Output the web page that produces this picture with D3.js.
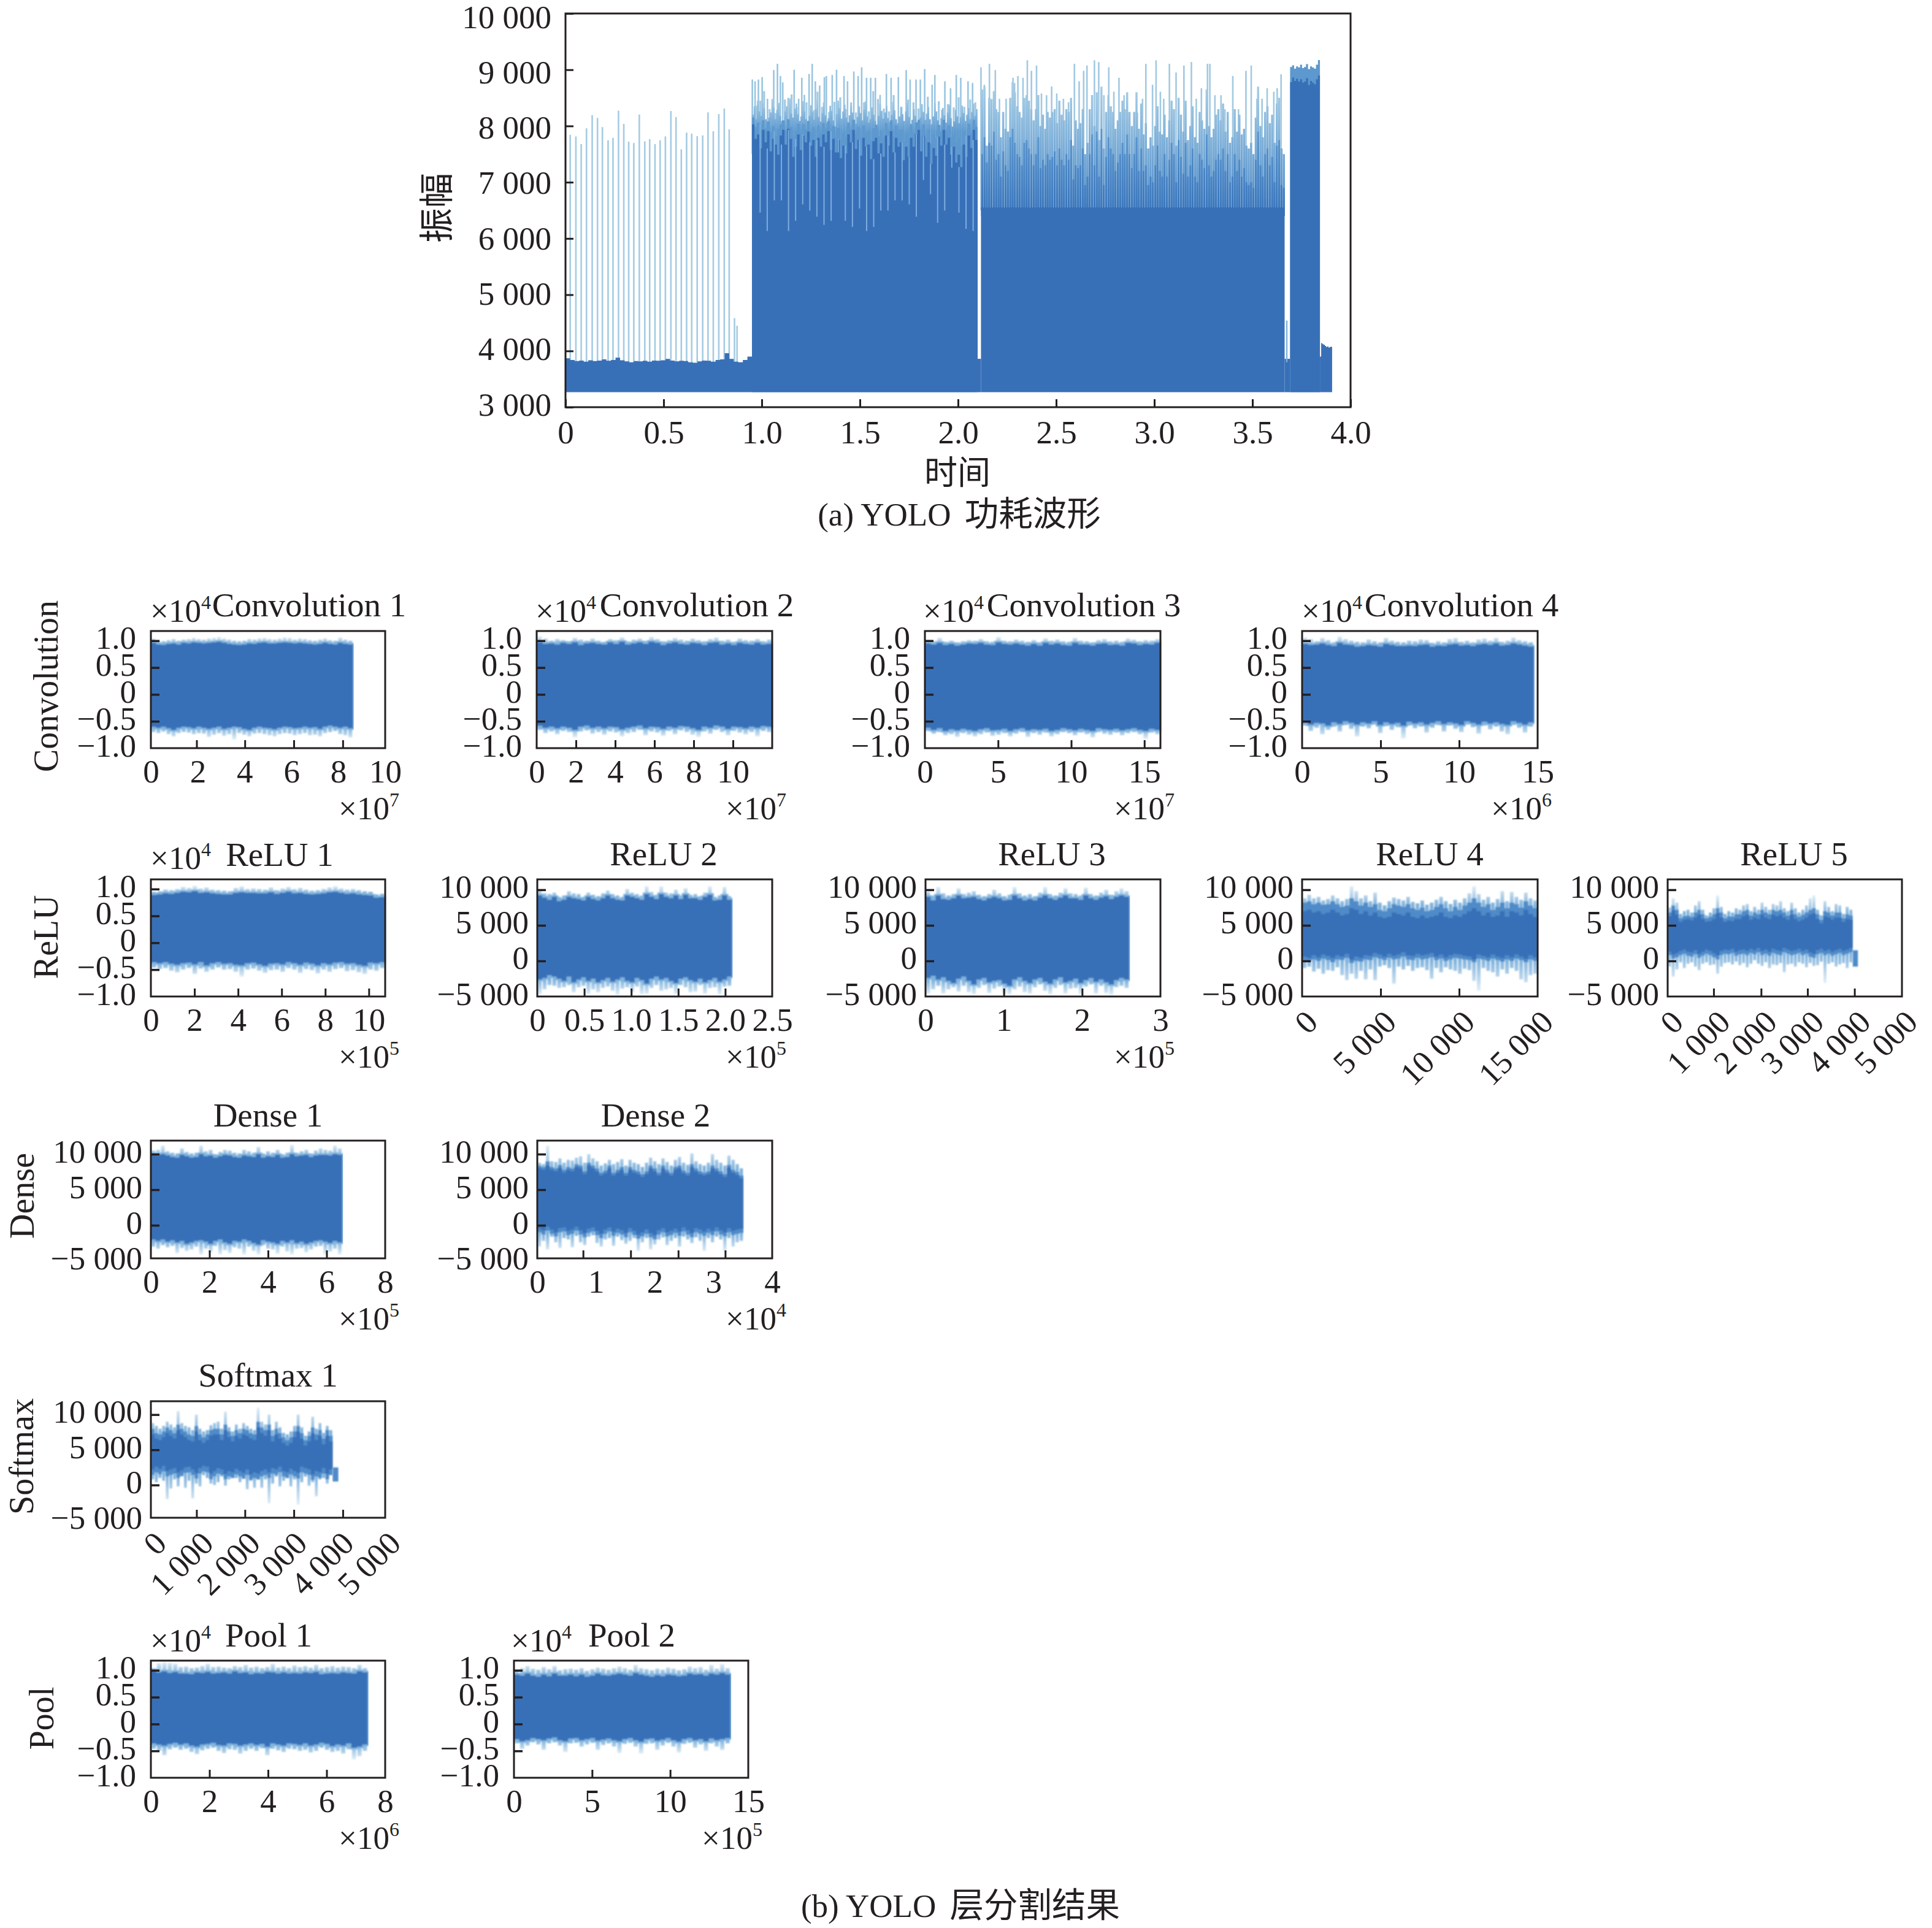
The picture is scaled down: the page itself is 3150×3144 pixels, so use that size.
<!DOCTYPE html>
<html><head><meta charset="utf-8">
<script src="https://cdn.jsdelivr.net/npm/d3@7/dist/d3.min.js"></script>
<style>
html,body{margin:0;background:#fff}
text{font-family:"Liberation Serif","Noto Sans CJK SC",serif;fill:#231f20}
</style></head><body>
<script>
// ---------- main waveform (a): time in the axis unit, amplitude in counts ----------
const mainYTicks=[3000,4000,5000,6000,7000,8000,9000,10000];
const mainXTicks=[0,0.5,1,1.5,2,2.5,3,3.5,4];
const aSpikeX=[0.024,0.053,0.080,0.107,0.136,0.163,0.188,0.217,0.242,0.270,0.297,0.322,0.348,0.376,0.404,0.429,0.456,0.482,0.509,0.537,0.563,0.590,0.617,0.643,0.671,0.699,0.726,0.753,0.781,0.809,0.834,0.861,0.874];
const aSpikeY=[7845,7814,7677,7957,8193,8143,7981,7745,7789,8273,8037,7720,7696,8205,7727,7764,7677,7745,7814,8267,8161,7584,7882,7863,7820,7832,8242,7907,8211,8311,7938,4584,4447];
const aTop=[3870,3840,3820,3830,3810,3835,3820,3830,3850,3825,3840,3880,3835,3815,3800,3820,3815,3825,3810,3830,3825,3835,3860,3830,3815,3825,3820,3800,3790,3815,3830,3825,3810,3840,3850,3960,3860,3810,3800,3840,3900];
const bSpikeX=[0.952,0.966,0.983,1.002,1.029,1.061,1.080,1.095,1.107,1.165,1.188,1.204,1.217,1.241,1.257,1.273,1.295,1.319,1.329,1.359,1.381,1.419,1.437,1.469,1.491,1.509,1.534,1.555,1.579,1.603,1.635,1.659,1.696,1.736,1.756,1.786,1.808,1.830,1.868,1.882,1.933,1.962,1.991,2.014,2.051,2.074];
const bSpikeY=[8826,8795,8826,8870,8484,8994,9106,8888,8776,9000,8484,8857,8553,8925,9106,8795,8720,8870,8888,8907,9000,8888,8795,8969,8888,9044,8857,8857,8857,8553,8925,8857,8870,8994,8826,8826,8826,9012,8733,8907,8795,8671,8907,8857,8795,8764];
const bShortX=[0.972,0.993,1.012,1.040,1.071,1.118,1.135,1.152,1.178,1.228,1.266,1.284,1.307,1.343,1.370,1.400,1.428,1.455,1.480,1.521,1.545,1.568,1.592,1.622,1.648,1.672,1.712,1.746,1.773,1.798,1.846,1.902,1.918,1.948,1.978,2.003,2.032,2.062,2.088];
const bShortY=[8360,8450,8620,8300,8230,8470,8500,8560,8340,8420,8280,8610,8340,8250,8430,8510,8300,8360,8240,8420,8260,8620,8480,8310,8260,8550,8340,8470,8420,8310,8520,8440,8290,8390,8330,8510,8340,8470,8420];
const bMidSpike=[8200,8350,8120,8450,8260,8180,8400,8310,8120,8080,8150,8240,8480,8330,8120,8290,8410,8180,8090,7980,8260,8350,8120,8490,8220,8150,8310,8400,8210,8090,8170,8440,8260,8120,8050,8180,8370,8250,8110,8300,8480,8160,8080,8230,8420,8190,8060,8140,8360,8270,8100,7990,8210,8450,8320,8130,8260,8380,8150,8070,8190,8420,8240,8110,8040,8160,8350,8230,8100,8290,8440,8170,8060,8120,8330,8200,8090,8020,8180,8400,8270,8130,8240,8360,8140,8070,8200,8430,8280,8120,8050,8170,8340,8210,8090,8260,8410,8160,8040,8110,8300,8180,8070,7980,8150,8390,8250,8110,8220,8340,8120,8030,8170,8410,8260,8100,8010,8140,8320,8190,8060,8240,8380,8140,7990,8080,8290,8170,8050,8160,8360,8230,8090,8200,8320,8120,8250,8400,8180,8300];
const bFringe=[8150,7980,8060,7900,8100,7950,8080,7880,8000,7820,7950,8030,8100,7920,8120,7980,7800,7900,8040,7860,8030,7940,8090,7880,7980,7760,8010,7860,8050,7950,8090,7880,8000,7800,7960,7760,7880,7800,8050,7940,8110,7850,7980,7780,8010,7880,7900,7740,7960,8020,7820,7920,7780,8050,7900,8100,7820,8010,7880,7940,7720,7880,7780,8020,7880,8060,8110,7820,8030,7780,7940,7680,7860,7780,8020,7900,8110,7920,8010,7800,7860,7700,7780,7640,7900,7760,8040,7860,8110,7980];
const bDark=[8030,7770,7850,7600,7930,7710,7910,7550,7770,7670,7490,7830,7930,7670,7950,7770,7450,7630,7850,7570,7830,7710,7900,7650,7750,7450,7790,7630,7850,7710,7910,7570,7770,7530,7750,7430,7650,7510,7850,7710,7930,7590,7750,7470,7790,7630,7670,7410,7730,7790,7510,7690,7450,7830,7650,7910,7530,7790,7630,7710,7390,7630,7450,7790,7630,7850,7930,7550,7830,7450,7710,7330,7610,7470,7810,7650,7930,7670,7790,7490,7630,7350,7490,7270,7670,7450,7830,7610,7930,7750];
const bCutLow=[6460,6133,6678,6678,6133,6314,6605,6496,6387,6242,6314,7768,6314,6205,6532,6133,6205,6496,6496,6678,6678,6605,6387,7040,6787,6278,6496,7258,6460,6170,6133];
const cSpikeX=[2.117,2.134,2.160,2.190,2.211,2.245,2.280,2.288,2.305,2.331,2.353,2.374,2.400,2.425,2.451,2.477,2.503,2.537,2.563,2.593,2.617,2.640,2.657,2.695,2.717,2.743,2.768,2.794,2.820,2.846,2.871,2.914,2.940,2.957,2.991,3.009,3.031,3.048,3.077,3.111,3.151,3.189,3.214,3.240,3.271,3.283,3.309,3.340,3.360,3.400,3.429,3.467,3.494,3.523,3.549,3.575,3.609,3.626,3.646];
const cSpikeY=[9043,8733,9106,8994,8484,8484,8857,8764,8888,8857,9168,8981,9075,8578,8547,8702,8578,8484,8422,9106,8795,8981,9075,9168,9137,8547,9043,8609,8857,8547,8236,8236,8484,9106,8733,9168,8609,8484,9106,8950,9075,9137,8484,8671,9106,9106,8547,8547,8298,8888,8298,8981,9075,8484,8484,8671,8609,8671,8919];
const cMid=[8650,8700,7650,8500,8480,8620,8300,8250,7800,8250,7950,7900,8500,8780,8600,8350,8250,8150,8500,8550,8450,8300,8100,8300,8550,8000,8200,7950,8250,8150,8250,8300,8050,8450,8200,8100,8300,8250,8500,7650,8100,7950,8050,8300,7500,7700,8300,8550,8000,8600,7750,8700,7600,8250,8550,8350,8250,7950,8100,8250,8450,8300,8600,8250,8000,8250,8600,7950,8400,7850,8050,7600,7800,7650,8000,8350,7900,7850,8200,7800,8100,8450,8300,7650,8500,8200,7900,8450,7750,8000,8350,7800,7700,8250,8100,7950,8650,8000,7800,7950,8200,8300,8100,8400,7900,8250,7700,7800,8300,7900,8200,7850,7950,7650,7600,7700,7500,8150,8700,8000,7800,8250,8350,8050,8200,7700,8400,8500,7600,7500];
const cDeep=[7500,7800,7350,7700,7650,7900,7400,7500,7100,7550,7300,7200,7800,7950,7700,7500,7450,7300,7700,7750,7600,7500,7300,7500,7800,7250,7400,7300,7500,7400,7450,7550,7300,7600,7400,7300,7500,7400,7750,7050,7300,7250,7300,7600,6950,7100,7500,7850,7300,7900,7100,7950,6950,7450,7800,7600,7500,7200,7350,7500,7700,7500,7850,7500,7250,7500,7800,7200,7600,7200,7300,6950,7100,7000,7300,7650,7200,7100,7500,7100,7400,7700,7500,7000,7750,7450,7150,7700,7100,7300,7600,7100,7000,7500,7400,7250,7850,7300,7100,7200,7400,7500,7400,7600,7200,7500,7000,7100,7500,7200,7400,7100,7250,7000,6950,7000,6900,7400,7900,7300,7100,7500,7600,7300,7450,7000,7650,7750,6950,6900];
const cBase=6550;
const dTop=[9050,9080,9020,9060,9040,9090,9030,9050,9100,9010,9060,9040,9020,9090,9170];
const dDark=[8780,8860,8800,8840,8790,8830,8770,8790,8850,8730,8800,8770,8740,8830,8900];
const eTop=[3900,4140,4120,4110,4090,4070,4080,4060,4070,4075];
const baseFloor=3267;
const gapX=[[2.100,2.117],[3.664,3.692]], gapTop=3860, gapSpikeX=3.675, gapSpikeY=4540;

// ---------- layer panels (b): envelopes in hundreds of counts, one sample per column ----------
const conv1OuterTop=[104,100,99,101,103,100,102,103,105,103,102,104,105,107,104,102,100,99,100,103,102,104,105,103,102,104,106,105,102,104,103,101,100,102,104,101,100,106,102,100];
const conv1MidTop=[96,93,92,94,95,93,96,95,97,96,95,96,97,98,96,94,93,92,93,95,94,96,97,95,95,96,97,96,95,96,95,94,93,94,96,94,93,96,94,93];
const conv1MidBot=[-60,-62,-60,-63,-66,-62,-60,-61,-63,-60,-62,-64,-62,-60,-64,-62,-60,-61,-64,-66,-62,-60,-62,-63,-65,-62,-60,-61,-63,-62,-60,-62,-61,-64,-60,-58,-60,-62,-60,-63];
const conv1OuterBot=[-70,-72,-69,-74,-78,-72,-70,-71,-74,-72,-73,-79,-75,-72,-77,-74,-84,-72,-75,-78,-73,-72,-74,-76,-78,-74,-72,-73,-76,-74,-72,-76,-75,-78,-72,-70,-68,-74,-76,-80];
const conv2OuterTop=[108,104,100,103,101,99,105,102,100,104,100,98,103,101,106,99,102,104,100,107,103,99,101,105,102,100,104,101,99,103,106,100,102,98,104,101,100,103,99,102];
const conv2MidTop=[97,94,95,93,96,94,97,92,95,96,94,93,97,94,98,93,95,97,94,98,96,92,95,97,94,93,96,95,92,96,97,93,95,92,96,94,93,96,93,94];
const conv2MidBot=[-58,-62,-60,-63,-60,-62,-66,-60,-58,-62,-60,-63,-60,-61,-65,-62,-60,-58,-63,-60,-61,-64,-60,-62,-59,-60,-63,-66,-60,-62,-58,-60,-64,-60,-61,-63,-60,-62,-59,-60];
const conv2OuterBot=[-66,-72,-69,-74,-68,-70,-80,-69,-67,-73,-70,-75,-69,-71,-78,-72,-70,-66,-76,-69,-71,-77,-68,-74,-67,-70,-75,-79,-69,-73,-66,-70,-76,-68,-71,-74,-70,-78,-68,-70];
const conv3OuterTop=[101,99,105,98,100,97,99,101,100,103,99,98,107,100,99,102,100,98,101,97,104,100,102,99,98,105,100,99,97,101,103,99,100,98,104,102,99,101,100,103];
const conv3MidTop=[95,93,96,92,94,91,93,95,94,96,93,92,97,94,93,95,93,91,94,91,96,93,95,92,91,96,93,93,91,94,95,92,93,91,96,95,92,94,93,96];
const conv3MidBot=[-62,-66,-63,-68,-65,-67,-64,-66,-68,-65,-63,-67,-66,-64,-68,-65,-63,-67,-65,-66,-64,-68,-66,-63,-65,-67,-64,-66,-68,-63,-65,-66,-64,-67,-65,-63,-66,-68,-64,-66];
const conv3OuterBot=[-68,-73,-70,-76,-74,-79,-72,-75,-78,-74,-71,-77,-75,-72,-78,-73,-70,-79,-72,-75,-71,-78,-74,-70,-72,-76,-71,-74,-80,-70,-73,-75,-71,-76,-72,-70,-74,-83,-71,-74];
const conv4OuterTop=[106,103,99,105,101,97,108,103,100,98,97,102,99,97,105,100,98,97,100,99,102,101,96,99,97,103,105,98,100,97,102,104,100,105,98,100,106,101,99,97];
const conv4MidTop=[94,92,93,95,92,90,96,93,92,89,90,92,91,89,94,92,90,90,91,90,92,93,89,91,90,93,94,91,92,90,93,94,92,95,91,92,95,93,91,89];
const conv4MidBot=[-52,-56,-53,-54,-58,-52,-55,-50,-53,-56,-52,-54,-50,-57,-52,-55,-53,-58,-51,-54,-52,-56,-53,-50,-55,-52,-54,-57,-50,-53,-56,-51,-54,-52,-55,-57,-50,-53,-56,-52];
const conv4OuterBot=[-58,-68,-62,-74,-66,-60,-69,-57,-64,-78,-60,-63,-56,-72,-59,-66,-61,-82,-58,-63,-60,-71,-62,-57,-69,-58,-64,-70,-56,-61,-73,-58,-65,-60,-69,-74,-57,-62,-71,-60];
const relu1OuterTop=[95,96,99,98,100,104,102,106,101,103,99,98,97,96,102,105,100,101,100,99,103,98,101,104,100,102,99,97,98,100,103,105,101,99,100,98,96,95,90,91];
const relu1MidTop=[89,90,92,91,93,95,94,96,93,94,92,91,90,90,93,94,93,93,92,92,94,91,93,95,92,93,91,90,91,92,94,95,93,91,92,90,89,88,84,85];
const relu1MidBot=[-36,-38,-36,-39,-41,-38,-37,-40,-36,-42,-38,-36,-39,-38,-41,-42,-38,-37,-40,-43,-39,-38,-40,-36,-38,-41,-37,-39,-42,-38,-40,-37,-36,-39,-38,-41,-43,-37,-38,-36];
const relu1OuterBot=[-46,-49,-47,-52,-55,-50,-47,-58,-48,-54,-50,-46,-50,-49,-54,-63,-50,-48,-52,-56,-51,-50,-54,-47,-50,-56,-49,-51,-57,-50,-54,-49,-47,-53,-51,-55,-58,-50,-52,-47];
const relu2OuterTop=[100,95,94,96,90,92,98,95,94,90,96,93,91,95,99,94,92,90,101,96,94,92,105,97,93,105,96,95,100,92,102,93,94,91,96,105,90,92,104,91];
const relu2MidTop=[92,89,86,90,84,86,90,88,87,85,90,87,85,88,92,88,86,85,92,90,88,86,94,90,87,94,90,88,92,87,93,88,88,86,90,93,85,86,92,86];
const relu2MidBot=[-26,-24,-20,-22,-25,-28,-22,-30,-26,-23,-28,-25,-30,-27,-24,-29,-26,-23,-28,-30,-24,-27,-32,-25,-22,-26,-24,-28,-31,-25,-23,-27,-29,-25,-30,-27,-24,-29,-26,-22];
const relu2OuterBot=[-47,-40,-34,-35,-38,-37,-34,-44,-37,-35,-46,-40,-44,-38,-36,-42,-48,-39,-37,-44,-36,-47,-46,-38,-34,-42,-40,-38,-46,-34,-37,-44,-43,-34,-46,-38,-37,-47,-36,-35];
const relu3OuterTop=[97,92,104,95,92,94,102,94,96,98,93,91,94,100,95,91,93,104,95,92,94,91,96,104,94,92,96,102,95,94,92,103,94,92,96,100,93,98,102,98];
const relu3MidTop=[90,85,92,87,86,88,92,88,89,90,87,85,88,90,88,85,86,92,88,85,87,85,89,92,88,86,89,92,88,88,86,92,88,86,89,91,87,90,92,90];
const relu3MidBot=[-24,-21,-26,-23,-28,-31,-25,-22,-28,-33,-26,-24,-30,-28,-27,-32,-35,-26,-23,-28,-31,-26,-24,-29,-32,-26,-23,-30,-28,-25,-31,-27,-24,-29,-26,-30,-33,-27,-24,-26];
const relu3OuterBot=[-46,-40,-35,-46,-40,-37,-43,-35,-44,-47,-38,-34,-45,-39,-36,-46,-47,-40,-36,-44,-46,-37,-33,-42,-47,-38,-34,-46,-39,-38,-47,-36,-33,-46,-35,-45,-48,-37,-35,-38];
const relu4OuterTop=[88,93,88,90,85,87,92,88,84,87,105,98,88,92,84,96,82,78,84,89,87,85,90,83,81,85,79,82,86,90,84,80,86,82,88,95,105,94,86,90,82,87,98,84,97,90,86,96,88,85];
const relu4MidTop=[82,84,80,82,79,80,84,80,76,78,88,84,78,82,76,80,72,70,74,80,78,76,80,74,72,75,70,72,76,80,74,70,76,72,78,82,88,82,76,80,72,76,82,74,82,80,75,84,78,74];
const relu4CoreTop=[70,72,68,70,66,68,72,68,64,66,74,72,66,70,64,68,62,60,62,68,66,64,68,62,60,64,60,62,64,68,62,60,64,62,66,70,74,70,64,68,62,64,70,62,70,68,64,72,66,62];
const relu4CoreBot=[6,4,8,5,9,7,4,8,6,10,2,6,4,8,7,11,9,6,10,7,9,12,8,7,10,8,9,11,6,9,5,8,10,9,7,6,2,9,7,5,9,6,4,8,5,9,6,3,8,5];
const relu4MidBot=[0,-1,2,0,3,1,-2,2,1,4,-3,0,-1,2,1,5,3,1,4,2,3,6,2,1,4,2,3,5,1,3,0,2,4,3,2,1,-2,3,2,0,3,1,-1,2,0,3,1,-2,2,0];
const relu4OuterBot=[-10,-8,-15,-11,-18,-13,-14,-9,-20,-27,-18,-25,-14,-26,-12,-27,-8,-6,-10,-32,-8,-12,-7,-14,-10,-9,-13,-25,-10,-16,-9,-12,-14,-18,-11,-13,-28,-42,-10,-14,-16,-22,-12,-18,-10,-14,-26,-30,-20,-18];
const relu5OuterTop=[75,88,82,66,70,72,68,78,84,72,64,68,74,92,76,66,70,68,74,72,78,80,70,76,72,82,76,72,80,78,84,74,70,82,74,68,72,78,88,92,72,64,84,76,70,80,78,66,76,72];
const relu5MidTop=[68,78,72,60,63,64,62,68,72,66,60,62,66,74,68,60,63,62,66,66,70,72,64,68,66,72,68,66,72,70,72,68,64,72,66,62,65,68,72,74,66,58,70,68,64,68,68,60,66,64];
const relu5CoreTop=[63,71,65,55,58,59,57,61,65,59,55,56,59,67,61,55,57,56,59,59,63,65,58,61,59,65,61,59,65,63,65,61,58,65,59,56,58,61,65,67,59,53,63,61,58,61,61,55,59,58];
const relu5CoreBot=[13,9,11,14,16,13,12,15,10,13,16,14,11,8,14,16,15,17,13,15,16,14,17,15,18,14,16,13,17,15,14,18,16,14,15,17,14,16,12,10,15,17,14,16,13,15,17,14,16,18];
const relu5MidBot=[8,3,5,8,10,7,6,9,4,7,10,8,5,2,8,10,9,11,7,9,10,8,11,9,12,8,10,7,11,9,8,12,10,8,9,11,8,10,6,4,9,11,8,10,7,9,11,8,10,12];
const relu5OuterBot=[-8,-22,-12,-2,-10,-4,-2,-8,-13,-4,-2,-6,-5,-18,-8,-3,-2,-5,-1,-6,-3,-9,-4,1,-4,-7,-2,-10,-5,-6,-3,-16,-5,-4,-8,-2,-4,-9,-3,-7,-6,-1,-31,-4,-2,-8,-5,-3,-10,-2];
const dense1OuterTop=[105,106,112,104,102,101,108,103,101,102,112,104,106,100,103,106,105,102,101,106,104,102,110,101,104,102,106,100,102,113,102,104,106,101,105,108,106,105,112,108];
const dense1MidTop=[100,99,100,98,96,95,99,97,95,96,100,97,98,95,97,99,98,96,95,98,97,96,100,95,97,96,99,95,96,100,97,98,99,96,98,99,99,98,100,99];
const dense1MidBot=[-20,-22,-20,-23,-21,-24,-22,-26,-24,-22,-21,-23,-26,-22,-20,-24,-26,-22,-23,-20,-22,-25,-27,-21,-23,-24,-26,-22,-24,-21,-25,-23,-26,-24,-22,-21,-23,-25,-22,-24];
const dense1OuterBot=[-30,-33,-28,-31,-29,-39,-32,-36,-34,-30,-41,-33,-38,-29,-41,-35,-39,-31,-33,-41,-30,-36,-41,-28,-33,-34,-40,-30,-37,-41,-33,-32,-38,-34,-30,-29,-41,-37,-33,-41];
const dense2OuterTop=[88,86,112,90,89,94,88,92,91,95,97,88,100,94,90,84,87,92,86,89,93,84,92,88,86,82,88,95,90,86,94,89,84,92,96,88,85,101,90,86,84,88,100,92,88,84,98,92,86,80];
const dense2MidTop=[84,82,90,82,80,85,78,82,80,86,84,76,88,84,80,74,77,84,74,78,82,74,82,78,76,72,76,84,80,74,84,78,74,82,84,77,74,86,80,76,74,76,84,80,76,72,85,78,75,70];
const dense2CoreTop=[80,78,84,78,76,81,74,78,76,82,80,72,84,80,76,70,73,80,70,74,78,70,78,74,72,68,72,80,76,70,80,74,70,78,80,73,70,82,76,72,70,72,80,76,72,68,81,74,71,66];
const dense2CoreBot=[-4,-7,-2,-6,-10,-4,-3,-8,-6,-2,-7,-11,-5,-3,-8,-12,-6,-3,-9,-5,-7,-11,-4,-8,-13,-10,-6,-11,-14,-7,-4,-10,-8,-5,-9,-3,-7,-11,-4,-6,-9,-5,-8,-3,-7,-10,-4,-8,-6,-5];
const dense2MidBot=[-10,-13,-8,-12,-16,-10,-9,-14,-12,-8,-13,-17,-11,-9,-14,-18,-12,-9,-15,-11,-13,-17,-10,-14,-19,-16,-12,-17,-20,-13,-10,-16,-14,-11,-15,-9,-13,-17,-10,-12,-15,-11,-14,-9,-13,-16,-10,-14,-12,-11];
const dense2OuterBot=[-30,-22,-34,-16,-24,-32,-18,-20,-31,-15,-24,-28,-16,-14,-25,-30,-20,-18,-29,-16,-21,-26,-22,-18,-36,-24,-18,-34,-27,-20,-17,-28,-22,-18,-30,-16,-20,-25,-17,-22,-36,-18,-24,-16,-20,-38,-18,-30,-24,-22];
const softmaxOuterTop=[88,84,80,84,90,86,82,105,88,84,82,78,100,80,76,78,85,88,90,80,104,82,76,86,80,88,84,80,78,110,90,86,100,78,90,82,74,72,76,84,100,82,70,76,97,80,88,74,84,78];
const softmaxMidTop=[80,74,72,76,82,78,74,86,80,76,72,70,84,72,68,72,78,80,80,72,86,76,70,78,74,80,78,74,72,90,82,78,86,70,80,74,68,64,68,76,84,74,64,70,82,72,78,66,78,70];
const softmaxCoreTop=[72,66,64,68,74,70,66,78,72,68,64,62,76,64,60,64,70,72,72,64,78,68,62,70,66,72,70,66,64,82,74,70,78,62,72,66,60,56,60,68,76,66,56,62,74,64,70,58,70,62];
const softmaxCoreBot=[22,26,23,27,20,22,24,18,21,25,26,22,17,24,27,26,16,20,24,22,16,20,18,23,20,17,22,15,18,16,20,22,18,24,22,26,20,18,23,20,17,26,24,22,15,20,18,24,16,22];
const softmaxMidBot=[14,18,15,19,12,14,16,10,13,17,18,14,9,16,19,18,8,12,16,14,8,12,10,15,12,9,14,7,10,8,12,14,10,16,14,18,12,10,15,12,9,18,16,14,7,12,10,16,8,14];
const softmaxOuterBot=[8,4,10,6,-20,-5,8,-2,12,-4,6,-19,2,-2,14,10,2,0,4,12,-1,8,12,10,4,14,-6,6,-4,10,-4,8,-26,2,12,-2,6,12,-2,8,-28,4,12,-1,4,-16,8,10,2,14];
const pool1OuterTop=[104,113,115,114,112,106,107,104,105,108,112,106,107,105,104,108,106,110,105,107,104,106,112,105,107,104,109,106,108,105,110,104,106,108,105,107,106,104,110,104];
const pool1MidTop=[100,96,98,95,97,94,94,93,96,95,97,94,95,96,94,98,95,96,93,95,94,97,96,94,96,94,95,94,96,95,97,93,94,95,94,96,95,94,98,96];
const pool1MidBot=[-36,-38,-40,-37,-35,-38,-36,-40,-42,-38,-37,-35,-39,-40,-36,-37,-40,-38,-36,-39,-37,-42,-36,-38,-40,-36,-37,-39,-36,-40,-38,-35,-37,-41,-38,-40,-36,-44,-42,-38];
const pool1OuterBot=[-46,-50,-58,-47,-44,-48,-46,-52,-56,-49,-46,-44,-50,-54,-47,-48,-55,-50,-46,-50,-45,-58,-46,-49,-52,-46,-47,-50,-48,-53,-50,-44,-48,-52,-50,-55,-47,-66,-60,-50];
const pool2OuterTop=[100,104,108,103,101,106,102,108,100,102,103,101,104,99,102,105,103,101,104,107,104,101,110,104,102,100,103,101,105,103,100,102,107,104,106,101,110,103,112,104];
const pool2MidTop=[92,90,94,90,88,92,89,94,90,90,92,89,92,88,90,94,91,90,92,94,92,90,95,92,90,88,91,89,92,91,89,90,94,92,93,90,94,92,95,92];
const pool2MidBot=[-28,-32,-30,-26,-28,-30,-27,-25,-30,-32,-27,-26,-30,-28,-26,-31,-29,-27,-30,-32,-28,-26,-30,-33,-28,-27,-31,-29,-26,-30,-33,-28,-26,-30,-28,-32,-27,-30,-28,-26];
const pool2OuterBot=[-36,-46,-40,-34,-38,-48,-36,-34,-40,-52,-36,-35,-42,-38,-35,-48,-39,-36,-42,-54,-37,-35,-42,-55,-37,-36,-48,-40,-35,-42,-53,-37,-35,-44,-38,-50,-36,-42,-48,-36];

const series={
 conv1:[conv1OuterTop,conv1MidTop,conv1MidBot,conv1OuterBot],conv2:[conv2OuterTop,conv2MidTop,conv2MidBot,conv2OuterBot],
 conv3:[conv3OuterTop,conv3MidTop,conv3MidBot,conv3OuterBot],conv4:[conv4OuterTop,conv4MidTop,conv4MidBot,conv4OuterBot],
 relu1:[relu1OuterTop,relu1MidTop,relu1MidBot,relu1OuterBot],relu2:[relu2OuterTop,relu2MidTop,relu2MidBot,relu2OuterBot],
 relu3:[relu3OuterTop,relu3MidTop,relu3MidBot,relu3OuterBot],relu4:[relu4OuterTop,relu4MidTop,relu4MidBot,relu4OuterBot,relu4CoreTop,relu4CoreBot],
 relu5:[relu5OuterTop,relu5MidTop,relu5MidBot,relu5OuterBot,relu5CoreTop,relu5CoreBot],dense1:[dense1OuterTop,dense1MidTop,dense1MidBot,dense1OuterBot],
 dense2:[dense2OuterTop,dense2MidTop,dense2MidBot,dense2OuterBot,dense2CoreTop,dense2CoreBot],softmax:[softmaxOuterTop,softmaxMidTop,softmaxMidBot,softmaxOuterBot,softmaxCoreTop,softmaxCoreBot],
 pool1:[pool1OuterTop,pool1MidTop,pool1MidBot,pool1OuterBot],pool2:[pool2OuterTop,pool2MidTop,pool2MidBot,pool2OuterBot]};

// panel description: axis domains, data extent, tick marks, tick labels
const panels=[
 {id:"conv1",title:"Convolution 1",dom:[0,10],ext:8.62,marks:[1.95,4.01,6.10,8.19],labels:[0,2,4,6,8,10],exp:7,top4:true},
 {id:"conv2",title:"Convolution 2",dom:[0,12],ext:12,marks:[2,4,6,8,10],labels:[0,2,4,6,8,10],exp:7,top4:true},
 {id:"conv3",title:"Convolution 3",dom:[0,16.1],ext:16.1,marks:[5,10,15],labels:[0,5,10,15],exp:7,top4:true},
 {id:"conv4",title:"Convolution 4",dom:[0,15],ext:14.75,marks:[5,10],labels:[0,5,10,15],exp:6,top4:true},
 {id:"relu1",title:"ReLU 1",dom:[0,10.75],ext:10.75,marks:[2,4,6,8,10],labels:[0,2,4,6,8,10],exp:5,top4:true},
 {id:"relu2",title:"ReLU 2",dom:[0,2.5],ext:2.07,marks:[0.5,1,1.5,2],labels:[0,0.5,1,1.5,2,2.5],exp:5,dec:1},
 {id:"relu3",title:"ReLU 3",dom:[0,3],ext:2.6,marks:[1,2],labels:[0,1,2,3],exp:5},
 {id:"relu4",title:"ReLU 4",dom:[0,15000],ext:15000,marks:[5000,10000],labels:[0,5000,10000,15000],rot:true},
 {id:"relu5",title:"ReLU 5",dom:[0,5000],ext:3950,marks:[981,1994,2985,3987],labels:[0,1000,2000,3000,4000,5000],rot:true,tail:[3950,4060,15,-8]},
 {id:"dense1",title:"Dense 1",dom:[0,8],ext:6.53,marks:[2,4,6],labels:[0,2,4,6,8],exp:5,wide:true},
 {id:"dense2",title:"Dense 2",dom:[0,4],ext:3.51,marks:[0.78,1.59,2.4,3.2],labels:[0,1,2,3,4],exp:4,wide:true},
 {id:"softmax",title:"Softmax 1",dom:[0,5000],ext:3880,marks:[974,2007,3051,4096],labels:[0,1000,2000,3000,4000,5000],rot:true,wide:true,tail:[3880,4000,25,5]},
 {id:"pool1",title:"Pool 1",dom:[0,8],ext:7.4,marks:[2,4,6],labels:[0,2,4,6,8],exp:6,top4:true},
 {id:"pool2",title:"Pool 2",dom:[0,15],ext:13.85,marks:[5,10],labels:[0,5,10,15],exp:5,top4:true}];
const rowNames=[["Convolution",94,1119],["ReLU",94,1528],["Dense",55,1950],["Softmax",54,2375],["Pool",87,2802]];
const yAmp4=[10000,5000,0,-5000,-10000], yAmp=[10000,5000,0,-5000];

// ---------- page layout ----------
const W=3150,H=3144,FS=53,TFS=55,INK="#231f20",DARK="#376fb8",MID="#4f8bc8",SPIKE="#a5cbe3";
const LAY={conv1:[246,1029,382,191,1005,504,245,1014],conv2:[875,1029,384,191,1005,1136,873,1014],conv3:[1508,1029,384,191,1005,1767,1505,1014],conv4:[2123,1029,384,191,1005,2383,2122,1014],
 relu1:[246,1434,382,191,1412,456,245,1417],relu2:[876,1434,383,191,1411,1082],relu3:[1509,1434,383,191,1411,1715],relu4:[2123,1434,384,191,1411,2331],relu5:[2719,1434,382,191,1411,2925],
 dense1:[246,1860,382,192,1837,437],dense2:[876,1860,383,192,1837,1069],softmax:[246,2285,382,190,2261,437],
 pool1:[246,2708,382,191,2685,438,245,2693],pool2:[838,2708,382,191,2685,1030,833,2693]};

const svg=d3.select("body").append("svg").attr("width",W).attr("height",H).style("display","block");
const defs=svg.append("defs");
defs.append("filter").attr("id","soft").append("feGaussianBlur").attr("stdDeviation",0.9);
defs.append("filter").attr("id","softer").append("feGaussianBlur").attr("stdDeviation",0.45);

const minus=s=>s.replace("-","\u2212");
const thou=v=>minus(d3.format(",")(v).replace(/,/g," "));
const oneDec=v=>v===0?"0":minus(d3.format(".1f")(v));

function styleAxis(g){g.selectAll(".domain").remove();g.selectAll("line").attr("stroke",INK).attr("stroke-width",3);
 g.selectAll("text").attr("font-size",FS).attr("fill",INK);}
function frame(g,l,t,w,h){g.append("rect").attr("x",l).attr("y",t).attr("width",w).attr("height",h).attr("fill","none").attr("stroke",INK).attr("stroke-width",3);}
function expLabel(g,x,y,n,anchor){const t=g.append("text").attr("x",x).attr("y",y).attr("font-size",FS).attr("text-anchor",anchor);
 t.append("tspan").text("\u00d710");t.append("tspan").attr("font-size",32).attr("dy",-21).text(n);}
function caption(x,y,lat,cjk){const t=svg.append("text").attr("x",x).attr("y",y).attr("text-anchor","middle").attr("font-size",FS);
 t.append("tspan").attr("dx",4).text(lat+" ");t.append("tspan").attr("font-size",55.5).attr("dx",9).text(cjk);}
function fade(id,y1,y2,c1,c2){const gr=defs.append("linearGradient").attr("id",id).attr("gradientUnits","userSpaceOnUse")
 .attr("x1",0).attr("x2",0).attr("y1",y1).attr("y2",y2);gr.append("stop").attr("offset",0).attr("stop-color",c1);gr.append("stop").attr("offset",1).attr("stop-color",c2);return `url(#${id})`;}

// ---------- (a) ----------
{
 const x=d3.scaleLinear().domain([0,4]).range([922,2202]);
 const y=d3.scaleLinear().domain([3000,10000]).range([664,22]);
 const labelShift=d3.scaleLinear().domain([3000,10000]).range([13,23]);
 const g=svg.append("g");
 const plot=g.append("g").attr("filter","url(#softer)");
 const vline=(gg,xs,ys,color,wd,base)=>gg.selectAll(null).data(d3.zip(xs,ys)).join("line")
   .attr("x1",d=>x(d[0])).attr("x2",d=>x(d[0])).attr("y1",y(base)).attr("y2",d=>y(d[1])).attr("stroke",color).attr("stroke-width",wd);
 const band=(gg,vals,x0,x1,color)=>{const sx=d3.scaleLinear().domain([0,vals.length]).range([x0,x1]);
   gg.append("path").datum([...vals,vals[vals.length-1]]).attr("fill",color)
    .attr("d",d3.area().curve(d3.curveStepAfter).x((d,i)=>x(sx(i))).y0(y(baseFloor)).y1(d=>y(d)));};
 const paleFade=fade("cPale",y(6550),y(8700),"#4f8cc9","#a6cde5");
 const deepFade=fade("cDeep",y(6550),y(8000),"#3b76bc","#5f9ad0");
 const bFade=fade("bPale",y(7900),y(8500),"#5f9ad0","#a9cee6");
 vline(plot,aSpikeX,aSpikeY,SPIKE,2.6,3800);
 vline(plot,bSpikeX,bSpikeY,"#9ac5e0",2.6,7500);
 vline(plot,bShortX,bShortY,"#a2cae4",3.2,7500);
 vline(plot,cSpikeX,cSpikeY,"#a2c9e2",2.6,6500);
 band(plot,aTop,0,0.95,DARK);
 const msx=d3.scaleLinear().domain([0,bMidSpike.length-1]).range([0.955,2.095]);
 vline(plot,bMidSpike.map((d,i)=>msx(i)),bMidSpike,bFade,2.8,7400);
 band(plot,bFringe,0.95,2.1,"#5d98ce");
 band(plot,bDark,0.95,2.1,DARK);
 const cutX=d3.scaleLinear().domain([0,bCutLow.length-1]).range([0.9916,2.077]);
 const cutTop=d3.scaleLinear().domain([0,bCutLow.length-1]).range([0,bDark.length-1]);
 plot.selectAll(null).data(bCutLow).join("line").attr("x1",(d,i)=>x(cutX(i))).attr("x2",(d,i)=>x(cutX(i)))
   .attr("y1",d=>y(d)).attr("y2",(d,i)=>y(bDark[Math.round(cutTop(i))])).attr("stroke","#7dade0").attr("stroke-width",2);
 const cx=d3.scaleLinear().domain([0,cMid.length-1]).range([2.123,3.66]);
 vline(plot,cMid.map((d,i)=>cx(i)),cMid,paleFade,3.5,6400);
 vline(plot,cDeep.map((d,i)=>cx(i)),cDeep,deepFade,3,6400);
 plot.append("rect").attr("x",x(2.117)).attr("width",x(3.664)-x(2.117)).attr("y",y(cBase)).attr("height",y(baseFloor)-y(cBase)).attr("fill",DARK);
 band(plot,dTop,3.692,3.844,"#5d98ce");
 band(plot,dDark,3.692,3.844,DARK);
 band(plot,eTop,3.844,3.906,DARK);
 gapX.forEach(gp=>plot.append("rect").attr("x",x(gp[0])).attr("width",x(gp[1])-x(gp[0])).attr("y",y(gapTop)).attr("height",y(baseFloor)-y(gapTop)).attr("fill",DARK));
 vline(plot,[gapSpikeX],[gapSpikeY],"#7fb1da",2.4,3800);
 const xa=g.append("g").attr("transform","translate(0,664)").call(d3.axisBottom(x).tickValues(mainXTicks).tickSize(-13).tickPadding(0).tickFormat(oneDec));
 const ya=g.append("g").attr("transform","translate(922,0)").call(d3.axisLeft(y).tickValues(mainYTicks).tickSize(-13).tickPadding(23).tickFormat(thou));
 styleAxis(xa);styleAxis(ya);
 xa.selectAll("text").attr("y",59).attr("dy",0);
 ya.selectAll("text").attr("dy",0).attr("y",d=>labelShift(d));
 frame(g,922,22,1280,642);
 g.append("text").attr("transform","translate(732,339) rotate(-90)").attr("text-anchor","middle").attr("font-size",57).text("振幅");
 g.append("text").attr("x",1561).attr("y",790).attr("text-anchor","middle").attr("font-size",54).text("时间");
}
caption(1560,857,"(a) YOLO","功耗波形");

// ---------- (b) ----------
panels.forEach(p=>{
 const [l,t,w,h,ty,tx,ex,ey]=LAY[p.id];
 const g=svg.append("g");
 const x=d3.scaleLinear().domain(p.dom).range([l,l+w]);
 const yDom=p.top4?[-10000,11800]:(p.wide?[-4650,11900]:[-5000,11460]);
 const y=d3.scaleLinear().domain(yDom).range([t+h,t]);
 const [ot,mt,mb,ob,ct,cb]=series[p.id];
 const u=100;
 // spikes fade from medium blue at the dense part to pale at the extreme values
 const upFade=fade("up-"+p.id,y(d3.mean(mt)*u),y(d3.max(ot)*u),"#7fb2dc","#e2eff7");
 const dnFade=fade("dn-"+p.id,y(d3.mean(mb)*u),y(d3.min(ob)*u),"#7fb2dc","#e2eff7");
 const clipId="clip-"+p.id;
 defs.append("clipPath").attr("id",clipId).append("rect").attr("x",l).attr("y",t).attr("width",x(p.ext)-l+1.5).attr("height",h);
 const clipped=g.append("g").attr("clip-path",`url(#${clipId})`);
 const plot=clipped.append("g").attr("filter","url(#soft)");
 const sx=d3.scaleLinear().domain([0,ot.length]).range([0,p.ext]);
 const step=x(sx(1))-x(sx(0));
 const spikes=(from,to,paint)=>plot.selectAll(null).data(d3.zip(from,to)).join("line")
   .attr("x1",(d,i)=>x(sx(i+0.5))).attr("x2",(d,i)=>x(sx(i+0.5))).attr("y1",d=>y(d[0]*u)).attr("y2",d=>y(d[1]*u))
   .attr("stroke",paint).attr("stroke-width",step*0.78);
 spikes(mt,ot,upFade);spikes(mb,ob,dnFade);
 const band=(hi,lo,c,halo)=>{const rows=[...d3.zip(hi,lo),[hi[hi.length-1],lo[lo.length-1]]];
   const pth=plot.append("path").datum(rows).attr("fill",c)
   .attr("d",d3.area().curve(d3.curveStepAfter).x((d,i)=>x(sx(i))).y0(d=>y(d[1]*u)).y1(d=>y(d[0]*u)));
   if(halo) pth.attr("stroke",halo).attr("stroke-width",5).attr("paint-order","stroke");};
 if(ct){band(mt,mb,MID);band(ct,cb,DARK);}
 else band(mt,mb,DARK,"#7fb2dc");
 if(p.tail) g.append("rect").attr("x",x(p.tail[0])).attr("width",x(p.tail[1])-x(p.tail[0])).attr("y",y(p.tail[2]*u)).attr("height",y(p.tail[3]*u)-y(p.tail[2]*u)).attr("fill",MID).attr("filter","url(#soft)");
 // tick marks
 const xm=g.append("g").attr("transform",`translate(0,${t+h})`).call(d3.axisBottom(x).tickValues(p.marks).tickSize(-13).tickFormat(""));
 styleAxis(xm);
 const yVals=p.top4?yAmp4:yAmp;
 const ym=g.append("g").attr("transform",`translate(${l},0)`).call(d3.axisLeft(y).tickValues(yVals.filter(v=>v>yDom[0])).tickSize(-14).tickFormat(""));
 styleAxis(ym);ym.selectAll("line").attr("stroke-width",3.5);
 // tick labels
 const fmt=p.rot?thou:(p.dec?oneDec:d3.format("d"));
 const xl=g.append("g").attr("transform",`translate(0,${t+h})`).call(d3.axisBottom(x).tickValues(p.labels).tickSize(0).tickFormat(fmt));
 styleAxis(xl);
 if(p.rot) xl.selectAll("text").attr("y",0).attr("dy",0).attr("text-anchor","end").attr("transform","translate(28,45) rotate(-45)");
 else xl.selectAll("text").attr("y",56).attr("dy",0);
 const yl=g.append("g").attr("transform",`translate(${l},0)`).call(d3.axisLeft(y).tickValues(yVals).tickSize(0).tickPadding(p.top4?24:14).tickFormat(p.top4?(v=>oneDec(v/10000)):thou));
 styleAxis(yl);
 yl.selectAll("text").attr("dy",0).attr("y",13);
 frame(g,l,t,w,h);
 g.append("text").attr("x",tx).attr("y",ty).attr("text-anchor","middle").attr("font-size",TFS).text(p.title);
 if(p.top4) expLabel(g,ex,ey,"4","start");
 if(p.exp) expLabel(g,l+w+23,t+h+116,String(p.exp),"end");
});
rowNames.forEach(([n,bx,cy])=>svg.append("text").attr("transform",`translate(${bx},${cy}) rotate(-90)`).attr("text-anchor","middle").attr("font-size",56).text(n));
caption(1562,3126,"(b) YOLO","层分割结果");
</script></body></html>
